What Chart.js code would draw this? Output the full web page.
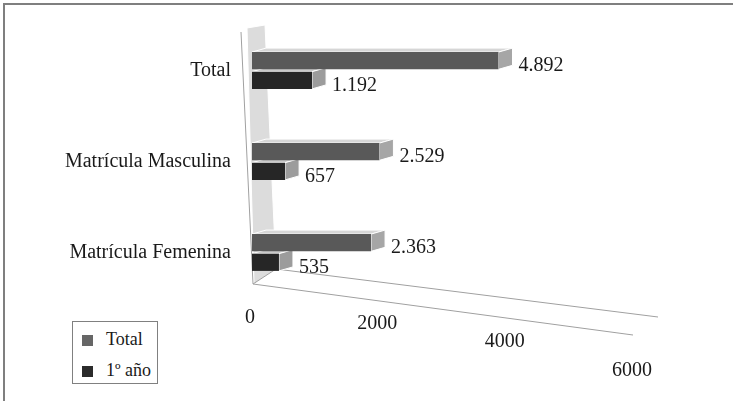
<!DOCTYPE html>
<html>
<head>
<meta charset="utf-8">
<script src="https://cdn.jsdelivr.net/npm/chart.js@4.4.1/dist/chart.umd.min.js"></script>
<style>
  html, body { margin: 0; padding: 0; background: #fff; }
  #wrap { position: relative; width: 733px; height: 401px; }
  #legend {
    position: absolute; left: 72px; top: 321px; width: 84px; height: 61px;
    border: 1px solid #808080; background: #fff;
    font: 18px "Liberation Serif", serif; color: #1a1a1a;
  }
  #legend .item { position: absolute; left: 9px; height: 20px; line-height: 20px; white-space: nowrap; }
  #legend .sw { display: inline-block; width: 11px; height: 11px; margin-right: 13px; vertical-align: -1px; }
</style>
</head>
<body>
<div id="wrap">
  <canvas id="c" width="733" height="401"></canvas>
  <div id="legend"></div>
</div>
<script>
// Matrícula: total students and first-year students
const categories = ['Total', 'Matrícula Masculina', 'Matrícula Femenina'];
const seriesNames = ['Total', '1º año'];
const totalValues = [4892, 2529, 2363];
const firstYearValues = [1192, 657, 535];
const tickValues = [0, 2000, 4000, 6000];

// Face colours of the extruded bars: front, top, end cap
const frontColors = ['#595959', '#262626'];
const topColors = ['#d6d6d6', '#cacaca'];
const capColors = ['#a6a6a6', '#9c9c9c'];
const DEPTH_X = 14, DEPTH_Y = -4;
const FONT = '"Liberation Serif", "Times New Roman", serif';

const fmt = v => String(v).replace(/\B(?=(\d{3})+(?!\d))/g, '.');

function poly(ctx, pts, fill, stroke) {
  ctx.beginPath();
  ctx.moveTo(pts[0][0], pts[0][1]);
  for (let i = 1; i < pts.length; i++) ctx.lineTo(pts[i][0], pts[i][1]);
  ctx.closePath();
  if (fill) { ctx.fillStyle = fill; ctx.fill(); }
  if (stroke) { ctx.strokeStyle = stroke; ctx.stroke(); }
}

const bar3d = {
  id: 'bar3d',
  beforeDraw(chart) {
    const ctx = chart.ctx;
    ctx.save();
    ctx.strokeStyle = '#7f7f7f';
    ctx.lineWidth = 2;
    ctx.strokeRect(4, 4, 800, 500);
    ctx.restore();
  },
  beforeDatasetsDraw(chart) {
    const ctx = chart.ctx;
    const { left: L, top: T, bottom: B } = chart.chartArea;
    const front = chart.scales.x2;
    const endX = front.getPixelForValue(tickValues[tickValues.length - 1]);
    ctx.save();
    ctx.lineWidth = 1;
    // back wall
    poly(ctx, [[L - 5, T + 3], [L + 13, T], [L + 24, B - 29], [L + 2, B - 14]], '#dcdcdc', '#ffffff');
    ctx.strokeStyle = '#a0a0a0';
    ctx.beginPath();
    ctx.moveTo(L - 11, T + 7); ctx.lineTo(L + 1, B - 14);
    // floor edges
    ctx.lineTo(endX - 1, B + 37);
    ctx.moveTo(L + 1, B - 14); ctx.lineTo(L + 24, B - 29);
    ctx.lineTo(endX + 24, B + 19);
    ctx.stroke();

    // top faces and end caps of every bar
    chart.data.datasets.forEach((ds, di) => {
      const meta = chart.getDatasetMeta(di);
      meta.data.forEach(el => {
        const { x, y, base, height } = el.getProps(['x', 'y', 'base', 'height'], true);
        const t = y - height / 2, b = y + height / 2;
        poly(ctx, [[base, t], [x, t], [x + DEPTH_X, t + DEPTH_Y], [base + DEPTH_X, t + DEPTH_Y]], topColors[di], '#ffffff');
        poly(ctx, [[x, t], [x + DEPTH_X, t + DEPTH_Y], [x + DEPTH_X, b + DEPTH_Y], [x, b]], capColors[di], '#ffffff');
      });
    });
    ctx.restore();
  },
  afterDatasetsDraw(chart) {
    const ctx = chart.ctx;
    ctx.save();
    ctx.font = '20px ' + FONT;
    ctx.fillStyle = '#1a1a1a';
    ctx.textAlign = 'left';
    ctx.textBaseline = 'middle';
    chart.data.datasets.forEach((ds, di) => {
      const meta = chart.getDatasetMeta(di);
      meta.data.forEach((el, i) => {
        const { x, y } = el.getProps(['x', 'y'], true);
        ctx.fillText(fmt(ds.data[i]), x + DEPTH_X + 6, y + 5);
      });
    });
    ctx.restore();
  },
  afterDraw(chart) {
    // value axis labels along the front edge of the floor, receding in perspective
    const ctx = chart.ctx;
    const front = chart.scales.x2;
    const B = chart.chartArea.bottom;
    const x0 = front.getPixelForValue(0);
    ctx.save();
    ctx.font = '20px ' + FONT;
    ctx.fillStyle = '#1a1a1a';
    ctx.textAlign = 'center';
    ctx.textBaseline = 'middle';
    front.ticks.forEach(tk => {
      const px = front.getPixelForValue(tk.value);
      const dx = px - x0;
      ctx.fillText(String(tk.value), px - 2, B + 20 + 3.6e-4 * dx * dx);
    });
    ctx.restore();
  }
};

const chart = new Chart(document.getElementById('c'), {
  type: 'bar',
  data: {
    labels: categories,
    datasets: [
      { label: seriesNames[0], data: totalValues, backgroundColor: frontColors[0] },
      { label: seriesNames[1], data: firstYearValues, backgroundColor: frontColors[1] }
    ]
  },
  options: {
    responsive: false,
    animation: false,
    indexAxis: 'y',
    layout: { padding: { left: 10, top: 25, right: 93, bottom: 103 } },
    datasets: { bar: { categoryPercentage: 0.43, barPercentage: 0.88 } },
    plugins: { legend: { display: false }, tooltip: { enabled: false } },
    scales: {
      y: {
        grid: { display: false, drawTicks: false },
        border: { display: false },
        ticks: { font: { family: FONT, size: 20 }, color: '#1a1a1a', padding: 21 },
        afterFit(s) { s.width = 242; s.paddingTop = 0; s.paddingBottom = 0; }
      },
      x: { type: 'linear', display: false, min: 0, max: 7700 },
      x2: {
        type: 'linear', axis: 'x', position: 'bottom', display: false, min: 0, max: 6094,
        afterBuildTicks(s) { s.ticks = tickValues.map(v => ({ value: v })); }
      }
    }
  },
  plugins: [bar3d]
});

// legend box built from the chart's datasets
const legendEl = document.getElementById('legend');
chart.data.datasets.forEach((ds, i) => {
  const row = document.createElement('div');
  row.className = 'item';
  row.style.top = (7 + i * 31) + 'px';
  const sw = document.createElement('span');
  sw.className = 'sw';
  sw.style.background = i === 0 ? '#666666' : '#2b2b2b';
  row.appendChild(sw);
  row.appendChild(document.createTextNode(ds.label));
  legendEl.appendChild(row);
});
</script>
</body>
</html>
